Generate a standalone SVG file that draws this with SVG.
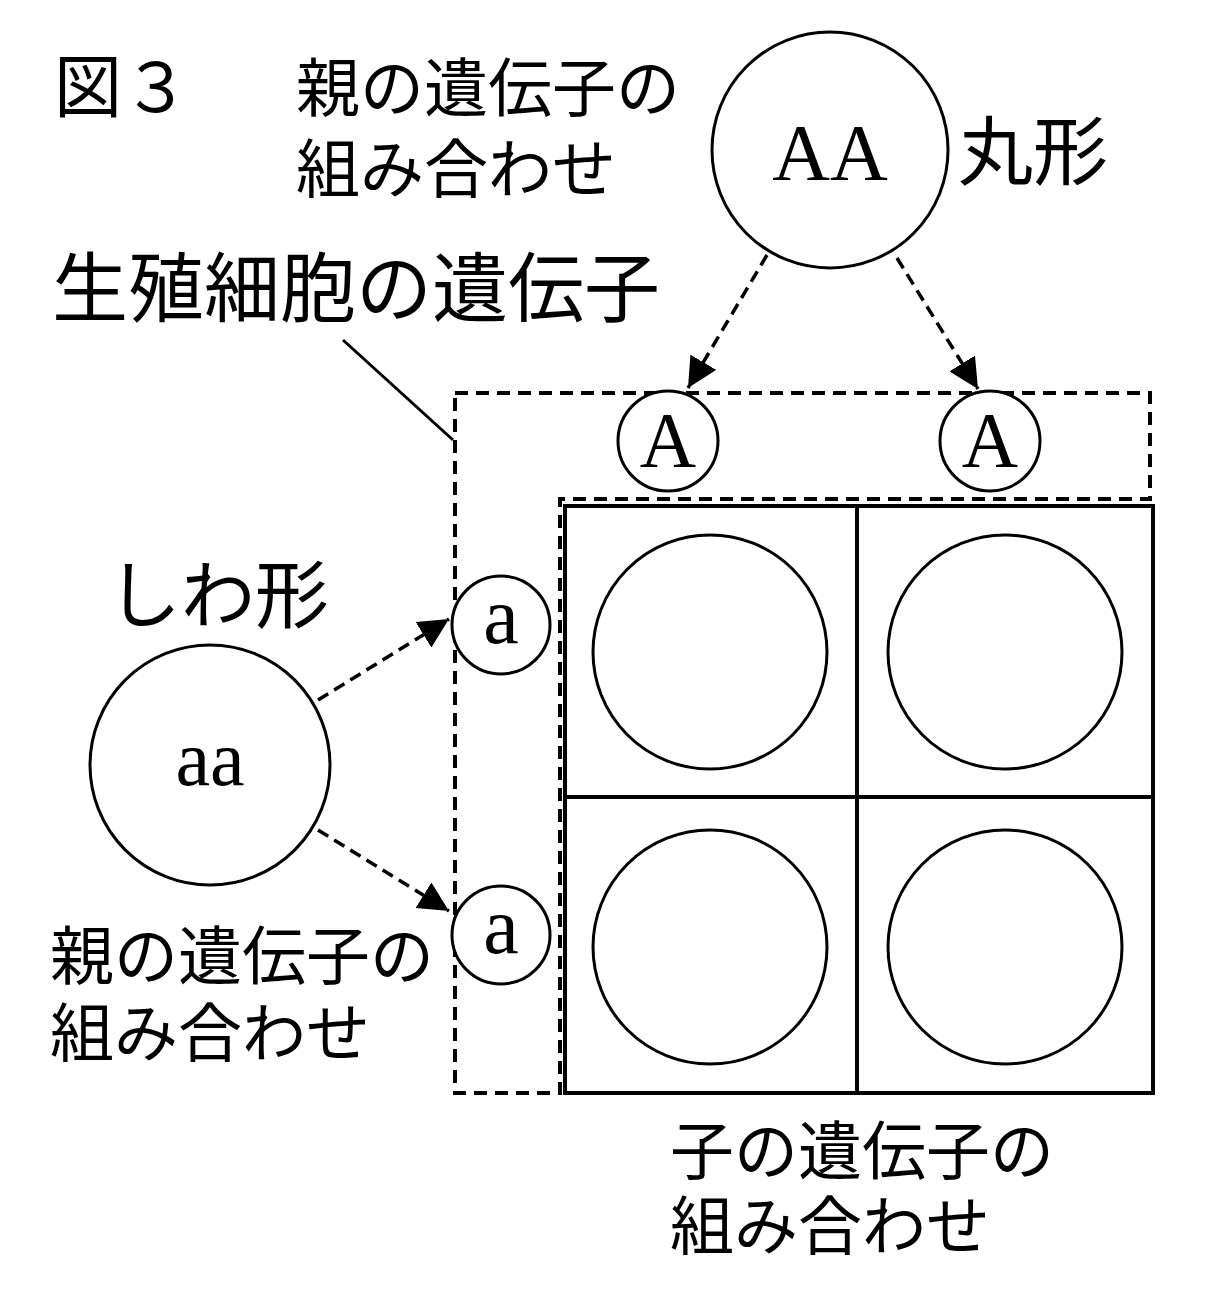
<svg xmlns="http://www.w3.org/2000/svg" width="1205" height="1299" viewBox="0 0 1205 1299">
<style>
.jp{font-family:"Noto Sans CJK JP","Noto Sans CJK SC",sans-serif;fill:#000}
.sr{font-family:"Liberation Serif",serif;fill:#000;text-anchor:middle}
.c{fill:#fff;stroke:#000;stroke-width:3}
.g{fill:none;stroke:#000;stroke-width:4}
.d{fill:none;stroke:#000;stroke-width:4;stroke-dasharray:13 8}
.ar{fill:none;stroke:#000;stroke-width:3.5;stroke-dasharray:12 7}
</style>
<defs>
<marker id="ah" viewBox="0 0 10 10" refX="10" refY="5" markerWidth="30" markerHeight="30" markerUnits="userSpaceOnUse" orient="auto">
<path d="M0,0 L10,5 L0,10 z" fill="#000"/>
</marker>
</defs>
<rect width="1205" height="1299" fill="#fff"/>
<g id="labels">
<text class="jp" x="54" y="112" font-size="68">図３</text>
<text class="jp" x="296" y="111" font-size="64">親の遺伝子の</text>
<text class="jp" x="296" y="192" font-size="64">組み合わせ</text>
<text class="jp" x="52" y="316" font-size="76">生殖細胞の遺伝子</text>
<text class="jp" x="958" y="179" font-size="75">丸形</text>
<text class="jp" x="107" y="622" font-size="74">しわ形</text>
<text class="jp" x="50" y="979" font-size="64">親の遺伝子の</text>
<text class="jp" x="50" y="1056" font-size="64">組み合わせ</text>
<text class="jp" x="670" y="1174" font-size="64">子の遺伝子の</text>
<text class="jp" x="670" y="1249" font-size="64">組み合わせ</text>
</g>
<g id="gamete-box">
<polygon class="d" points="455,393 1150,393 1150,499 560,499 560,1093 455,1093"/>
</g>
<g id="punnett-grid">
<rect class="g" x="565" y="506" width="588" height="587"/>
<line class="g" x1="857" y1="506" x2="857" y2="1093"/>
<line class="g" x1="565" y1="797" x2="1153" y2="797"/>
</g>
<g id="cell-11"><circle class="c" cx="710" cy="652" r="117"/></g>
<g id="cell-12"><circle class="c" cx="1005" cy="652" r="117"/></g>
<g id="cell-21"><circle class="c" cx="710" cy="947" r="117"/></g>
<g id="cell-22"><circle class="c" cx="1005" cy="947" r="117"/></g>
<g id="parent-AA"><circle class="c" cx="830" cy="150" r="118"/><text class="sr" x="830" y="180" font-size="80">AA</text></g>
<g id="parent-aa"><circle class="c" cx="210" cy="765" r="120"/><text class="sr" x="210" y="785" font-size="78">aa</text></g>
<g id="gamete-A1"><circle class="c" cx="668" cy="441" r="50"/><text class="sr" x="668" y="466" font-size="78">A</text></g>
<g id="gamete-A2"><circle class="c" cx="990" cy="441" r="50"/><text class="sr" x="990" y="466" font-size="78">A</text></g>
<g id="gamete-a1"><circle class="c" cx="501" cy="625" r="49"/><text class="sr" x="501" y="643" font-size="80">a</text></g>
<g id="gamete-a2"><circle class="c" cx="501" cy="935" r="49"/><text class="sr" x="501" y="953" font-size="80">a</text></g>
<g id="connectors">
<line class="ar" x1="767" y1="255" x2="688" y2="388" marker-end="url(#ah)"/>
<line class="ar" x1="897" y1="258" x2="978" y2="389" marker-end="url(#ah)"/>
<line class="ar" x1="318" y1="700" x2="449" y2="619" marker-end="url(#ah)"/>
<line class="ar" x1="318" y1="830" x2="449" y2="911" marker-end="url(#ah)"/>
<line stroke="#000" stroke-width="3" x1="343" y1="340" x2="453" y2="440"/>
</g>
</svg>
